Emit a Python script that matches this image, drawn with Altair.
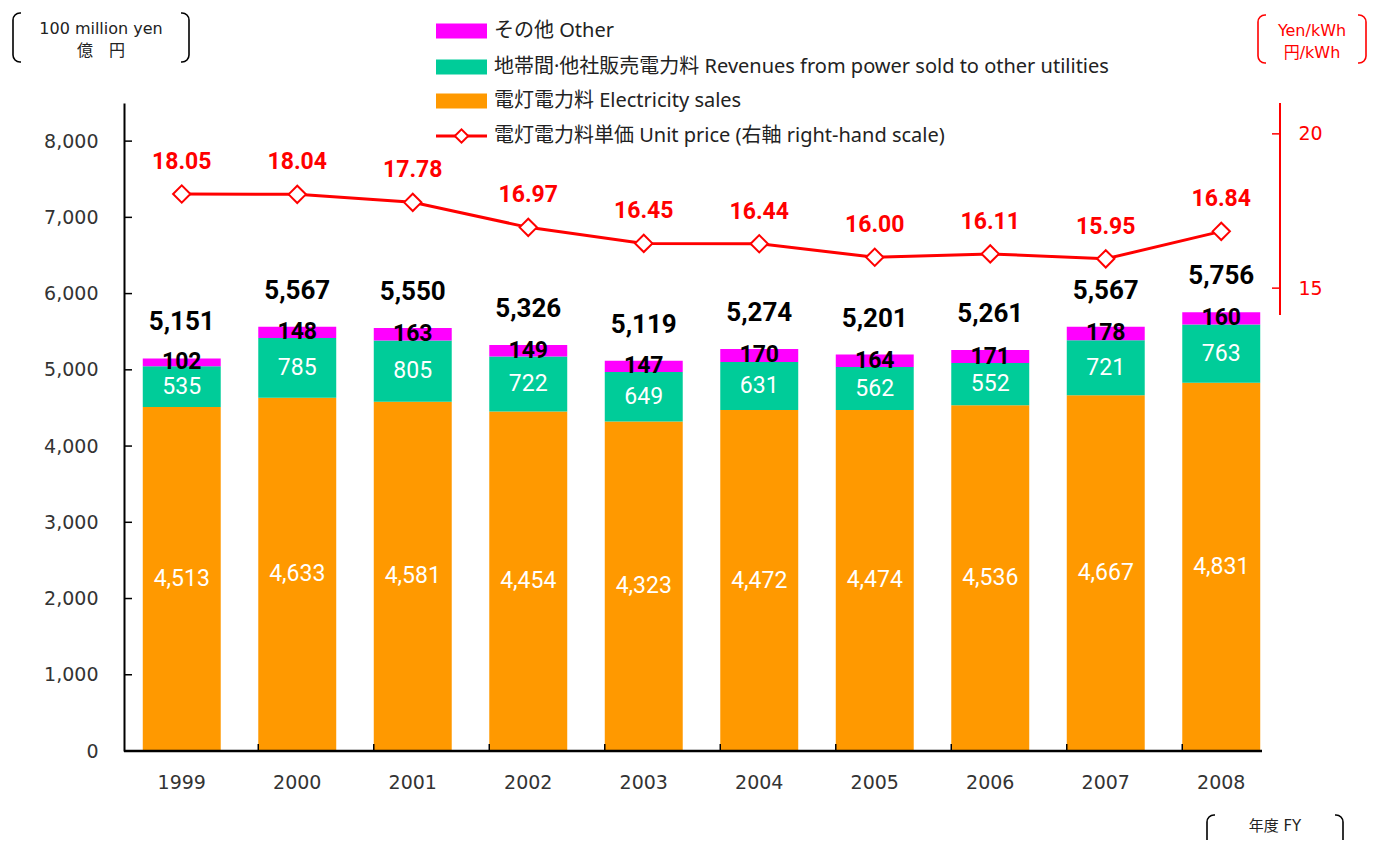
import altair as alt
import pandas as pd

# ---------------- data ----------------
years = ["1999", "2000", "2001", "2002", "2003", "2004", "2005", "2006", "2007", "2008"]
electricity = [4513, 4633, 4581, 4454, 4323, 4472, 4474, 4536, 4667, 4831]
sold_other = [535, 785, 805, 722, 649, 631, 562, 552, 721, 763]
other = [102, 148, 163, 149, 147, 170, 164, 171, 178, 160]
totals = [5151, 5567, 5550, 5326, 5119, 5274, 5201, 5261, 5567, 5756]
unit_price = [18.05, 18.04, 17.78, 16.97, 16.45, 16.44, 16.00, 16.11, 15.95, 16.84]
y_ticks = [0, 1000, 2000, 3000, 4000, 5000, 6000, 7000, 8000]
right_ticks = [15, 20]
series_names = [
    "電灯電力料 Electricity sales",
    "地帯間·他社販売電力料 Revenues from power sold to other utilities",
    "その他 Other",
]
line_name = "電灯電力料単価 Unit price (右軸 right-hand scale)"
series_colors = ["#FF9900", "#00CC99", "#FF00FF"]
RED = "#FF0000"

W, H = 1155, 648

long_rows = []
for i, y in enumerate(years):
    for k, vals in enumerate([electricity, sold_other, other]):
        long_rows.append({"year": y, "series": series_names[k], "k": k, "value": vals[i]})
df_long = pd.DataFrame(long_rows)
df_wide = pd.DataFrame({"year": years, "total": totals, "price": unit_price})
df_yt = pd.DataFrame({"t": y_ticks})
df_rt = pd.DataFrame({"t": right_ticks})
df_xt = pd.DataFrame({"year": years[1:]})
one = pd.DataFrame({"d": [0]})

AX_FONT = "DejaVu Sans"
NUM_FONT = "Roboto"
JP_FONT = "Noto Sans CJK JP"
LEG_FONT = "Noto Sans, Noto Sans CJK JP"
DV_FONT = "DejaVu Sans, Noto Sans CJK JP"

xscale = alt.Scale(domain=years, paddingInner=0.325, paddingOuter=0.1625)
yscale = alt.Scale(domain=[0, 8500], nice=False)
rscale = alt.Scale(domain=[0, 21], nice=False)

x_axis = alt.Axis(title=None, labelAngle=0, domain=False, ticks=False, tickSize=0,
                  labelPadding=22, labelFont=AX_FONT, labelFontSize=19,
                  labelColor="#333333", grid=False)
y_axis = alt.Axis(title=None, values=y_ticks, labelExpr="format(datum.value, ',.0f')",
                  grid=False, ticks=False, tickSize=0, labelPadding=26,
                  domainColor="black", domainWidth=2,
                  labelFont=AX_FONT, labelFontSize=19, labelColor="#333333")
r_axis = alt.Axis(orient="right", title=None, values=right_ticks, grid=False,
                  labelExpr="format(datum.value, 'd')",
                  domain=False, ticks=False, tickSize=0, labelPadding=19,
                  labelFont=AX_FONT, labelFontSize=19, labelColor=RED)


def xenc(**kw):
    return alt.X("year:N", scale=xscale, axis=x_axis, **kw)


def yenc(field):
    return alt.Y(field, scale=yscale, axis=y_axis)


def renc(field):
    return alt.Y(field, scale=rscale, axis=r_axis)


base = (
    alt.Chart(df_long)
    .transform_stack(stack="value", as_=["v0", "v1"], groupby=["year"],
                     sort=[alt.SortField("k", order="ascending")])
    .transform_calculate(mid="(datum.v0 + datum.v1) / 2")
)

bars = base.mark_bar().encode(
    x=xenc(),
    y=yenc("v0:Q"),
    y2="v1:Q",
    color=alt.Color("series:N", scale=alt.Scale(domain=series_names, range=series_colors),
                    legend=None),
)


def seg_text(k, color, weight):
    return base.transform_filter(alt.datum.k == k).mark_text(
        font=NUM_FONT, fontSize=23, color=color, fontWeight=weight, baseline="middle"
    ).encode(
        x=xenc(),
        y=yenc("mid:Q"),
        text=alt.Text("value:Q", format=","),
    )


lab_e = seg_text(0, "white", "normal")
lab_s = seg_text(1, "white", "normal")
lab_o = seg_text(2, "black", "bold")

tot = alt.Chart(df_wide).mark_text(
    font=NUM_FONT, fontSize=26, fontWeight="bold", color="black", baseline="middle", dy=-36
).encode(
    x=xenc(),
    y=yenc("total:Q"),
    text=alt.Text("total:Q", format=","),
)

# axis ticks pointing inward + x domain line
ytk = alt.Chart(df_yt).mark_rule(color="black", strokeWidth=1.5).encode(
    x=alt.value(0), x2=alt.value(8), y=yenc("t:Q")
)
xtk = alt.Chart(df_xt).mark_rule(color="black", strokeWidth=1.5).encode(
    x=xenc(bandPosition=0), y=alt.value(H), y2=alt.value(H - 7)
)
xdom = alt.Chart(one).mark_rule(color="black", strokeWidth=2.5).encode(
    x=alt.value(0), x2=alt.value(1138), y=alt.value(H)
)


def txt(s, x, y, size, color, font=JP_FONT, align="center", weight="normal"):
    return alt.Chart(one).mark_text(
        text=s, fontSize=size, color=color, font=font, align=align,
        baseline="middle", fontWeight=weight
    ).encode(x=alt.value(x), y=alt.value(y))


def bracket(x1, x2, y1, y2, color):
    frame = alt.Chart(one).mark_rect(
        fill="transparent", stroke=color, strokeWidth=1.6, cornerRadius=7
    ).encode(x=alt.value(x1), x2=alt.value(x2), y=alt.value(y1), y2=alt.value(y2))
    c1 = alt.Chart(one).mark_rect(fill="white").encode(
        x=alt.value(x1 + 8), x2=alt.value(x2 - 8), y=alt.value(y1 - 3), y2=alt.value(y1 + 3))
    c2 = alt.Chart(one).mark_rect(fill="white").encode(
        x=alt.value(x1 + 8), x2=alt.value(x2 - 8), y=alt.value(y2 - 3), y2=alt.value(y2 + 3))
    return [frame, c1, c2]


decor = []
decor += bracket(-111, 65, -90, -41, "black")
decor += [txt("100 million yen", -23, -74, 16, "#222222", font=DV_FONT),
          txt("億　円", -23, -52, 16, "#222222")]
decor += bracket(1134, 1242, -88, -40, RED)
decor += [txt("Yen/kWh", 1188, -72, 16, RED, font=DV_FONT),
          txt("円/kWh", 1188, -50, 16, RED, font=DV_FONT)]
decor += bracket(1083, 1219, 712, 780, "black")
decor += [txt("年度 FY", 1151, 723, 15, "#222222", font=DV_FONT)]

# legend
legend = []
for name, color, cy in zip(series_names[::-1], series_colors[::-1], [-72, -36, -2]):
    legend.append(alt.Chart(one).mark_rect(fill=color).encode(
        x=alt.value(312), x2=alt.value(363), y=alt.value(cy - 7.5), y2=alt.value(cy + 7.5)))
    legend.append(txt(name, 370, cy, 20, "#222222", font=LEG_FONT, align="left"))
legend.append(alt.Chart(one).mark_rule(color=RED, strokeWidth=3).encode(
    x=alt.value(312), x2=alt.value(363), y=alt.value(33)))
legend.append(alt.Chart(one).mark_point(
    shape="diamond", filled=True, fill="white", stroke=RED, strokeWidth=2, size=180, opacity=1
).encode(x=alt.value(337.5), y=alt.value(33)))
legend.append(txt(line_name, 370, 33, 20, "#222222", font=LEG_FONT, align="left"))

left = alt.layer(bars, lab_e, lab_s, lab_o, tot, ytk, xtk, xdom, *decor, *legend)

# right-hand scale layers
line = alt.Chart(df_wide).mark_line(color=RED, strokeWidth=3).encode(
    x=xenc(),
    y=renc("price:Q"),
)
pts = alt.Chart(df_wide).mark_point(
    shape="diamond", filled=True, fill="white", stroke=RED, strokeWidth=2, size=300, opacity=1
).encode(x=xenc(), y=renc("price:Q"))
plab = alt.Chart(df_wide).mark_text(
    font=NUM_FONT, fontSize=23, fontWeight="bold", color=RED, baseline="middle", dy=-32
).encode(
    x=xenc(),
    y=renc("price:Q"),
    text=alt.Text("price:Q", format=".2f"),
)
rdom = alt.Chart(one).mark_rule(color=RED, strokeWidth=2).encode(
    x=alt.value(W + 1), y=alt.value(0), y2=alt.value(212)
)
rtk = alt.Chart(df_rt).mark_rule(color=RED, strokeWidth=1.5).encode(
    x=alt.value(W - 7), x2=alt.value(W + 1), y=renc("t:Q")
)
right = alt.layer(line, pts, plab, rdom, rtk)

chart = (
    alt.layer(left, right)
    .resolve_scale(y="independent")
    .properties(
        width=W, height=H,
        autosize=alt.AutoSizeParams(type="none"),
        padding={"left": 116, "top": 95, "right": 89, "bottom": 89},
    )
    .configure_view(stroke=None)
)

chart.save("out.html", embed_options={"renderer": "svg", "actions": False})
